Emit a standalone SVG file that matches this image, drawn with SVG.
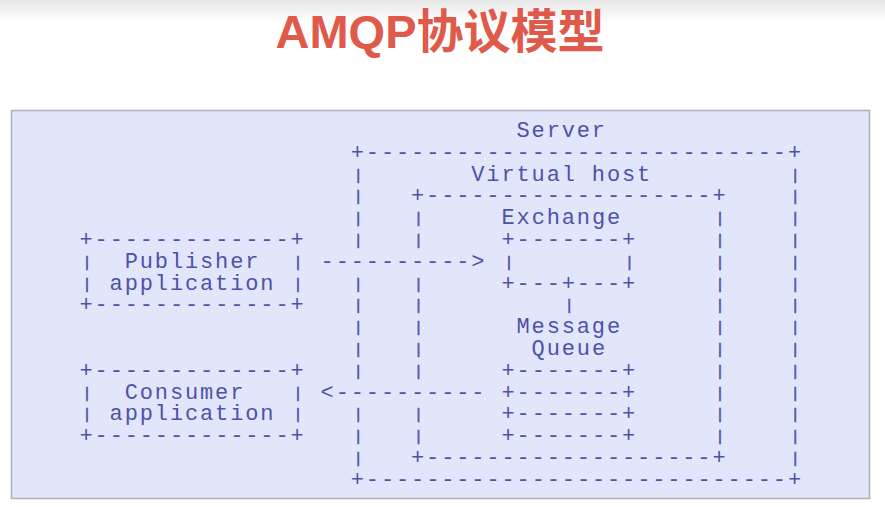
<svg xmlns="http://www.w3.org/2000/svg" width="885" height="507" viewBox="0 0 885 507" xml:space="preserve">
<defs>
<linearGradient id="topfade" x1="0" y1="0" x2="0" y2="1">
<stop offset="0" stop-color="#e6e6e6"/>
<stop offset="1" stop-color="#ffffff"/>
</linearGradient>
<style>
.m{font-family:"Courier New","Liberation Mono",monospace;font-size:22px;letter-spacing:1.87px;fill:#4e52a8;white-space:pre}
.b{font-family:"Courier New","Liberation Mono",monospace;font-size:14px;fill:#4e52a8;stroke:#4e52a8;stroke-width:0.6px}
.title{font-family:"Liberation Sans","Noto Sans CJK SC",sans-serif;font-size:47px;font-weight:bold;fill:#e05a4b}
</style>
</defs>
<rect x="0" y="0" width="885" height="507" fill="#ffffff"/>
<rect x="0" y="0" width="885" height="22" fill="url(#topfade)"/>
<text class="title" x="440" y="48" text-anchor="middle">AMQP协议模型</text>
<rect x="11.5" y="110.5" width="858" height="388" fill="#e2e6fa" stroke="#aeb0bc" stroke-width="1.5"/>

<g id="server">
<text class="m" x="516.5" y="137">Server</text>
<text class="m" x="350.8" y="158.8">+----------------------------+</text>
<text class="b"><tspan x="354.1" y="179.6">|</tspan><tspan x="354.1" y="201.4">|</tspan><tspan x="354.1" y="223.2">|</tspan><tspan x="354.1" y="245">|</tspan><tspan x="354.1" y="288.6">|</tspan><tspan x="354.1" y="310.4">|</tspan><tspan x="354.1" y="332.2">|</tspan><tspan x="354.1" y="354">|</tspan><tspan x="354.1" y="375.8">|</tspan><tspan x="354.1" y="419.4">|</tspan><tspan x="354.1" y="441.2">|</tspan><tspan x="354.1" y="463">|</tspan></text>
<text class="b"><tspan x="791.1" y="179.6">|</tspan><tspan x="791.1" y="201.4">|</tspan><tspan x="791.1" y="223.2">|</tspan><tspan x="791.1" y="245">|</tspan><tspan x="791.1" y="266.8">|</tspan><tspan x="791.1" y="288.6">|</tspan><tspan x="791.1" y="310.4">|</tspan><tspan x="791.1" y="332.2">|</tspan><tspan x="791.1" y="354">|</tspan><tspan x="791.1" y="375.8">|</tspan><tspan x="791.1" y="397.6">|</tspan><tspan x="791.1" y="419.4">|</tspan><tspan x="791.1" y="441.2">|</tspan><tspan x="791.1" y="463">|</tspan></text>
<text class="m" x="350.8" y="485.8">+----------------------------+</text>
</g>

<g id="virtual-host">
<text class="m" x="471.3" y="180.6">Virtual host</text>
<text class="m" x="411" y="202.4">+-------------------+</text>
<text class="b"><tspan x="414.3" y="223.2">|</tspan><tspan x="414.3" y="245">|</tspan><tspan x="414.3" y="288.6">|</tspan><tspan x="414.3" y="310.4">|</tspan><tspan x="414.3" y="332.2">|</tspan><tspan x="414.3" y="354">|</tspan><tspan x="414.3" y="375.8">|</tspan><tspan x="414.3" y="419.4">|</tspan><tspan x="414.3" y="441.2">|</tspan></text>
<text class="b"><tspan x="715.7" y="223.2">|</tspan><tspan x="715.7" y="245">|</tspan><tspan x="715.7" y="266.8">|</tspan><tspan x="715.7" y="288.6">|</tspan><tspan x="715.7" y="310.4">|</tspan><tspan x="715.7" y="332.2">|</tspan><tspan x="715.7" y="354">|</tspan><tspan x="715.7" y="375.8">|</tspan><tspan x="715.7" y="397.6">|</tspan><tspan x="715.7" y="419.4">|</tspan><tspan x="715.7" y="441.2">|</tspan></text>
<text class="m" x="411" y="464">+-------------------+</text>
</g>

<g id="exchange">
<text class="m" x="501.5" y="224.2">Exchange</text>
<text class="m" x="501.5" y="246">+-------+</text>
<text class="b"><tspan x="504.8" y="266.8">|</tspan><tspan x="625.3" y="266.8">|</tspan></text>
<text class="m" x="501.5" y="289.6">+---+---+</text>
</g>

<g id="message-queue">
<text class="m" x="516.5" y="333.2">Message</text>
<text class="m" x="531.6" y="355">Queue</text>
<text class="m" x="501.5" y="376.8">+-------+</text>
<text class="m" x="501.5" y="398.6">+-------+</text>
<text class="m" x="501.5" y="420.4">+-------+</text>
<text class="m" x="501.5" y="442.2">+-------+</text>
</g>

<g id="publisher">
<text class="m" x="79.5" y="246">+-------------+</text>
<text class="b"><tspan x="82.8" y="266.8">|</tspan><tspan x="293.8" y="266.8">|</tspan><tspan x="82.8" y="288.6">|</tspan><tspan x="293.8" y="288.6">|</tspan></text>
<text class="m" x="124.7" y="267.8">Publisher</text>
<text class="m" x="109.6" y="289.6">application</text>
<text class="m" x="79.5" y="311.4">+-------------+</text>
</g>

<g id="consumer">
<text class="m" x="79.5" y="376.8">+-------------+</text>
<text class="b"><tspan x="82.8" y="397.6">|</tspan><tspan x="293.8" y="397.6">|</tspan><tspan x="82.8" y="419.4">|</tspan><tspan x="293.8" y="419.4">|</tspan></text>
<text class="m" x="124.7" y="398.6">Consumer</text>
<text class="m" x="109.6" y="420.4">application</text>
<text class="m" x="79.5" y="442.2">+-------------+</text>
</g>

<g id="connectors">
<text class="m" x="320.6" y="267.8">----------&gt;</text>
<text class="m" x="320.6" y="398.6">&lt;----------</text>
<text class="b" x="565" y="310.4">|</text>
</g>
</svg>
